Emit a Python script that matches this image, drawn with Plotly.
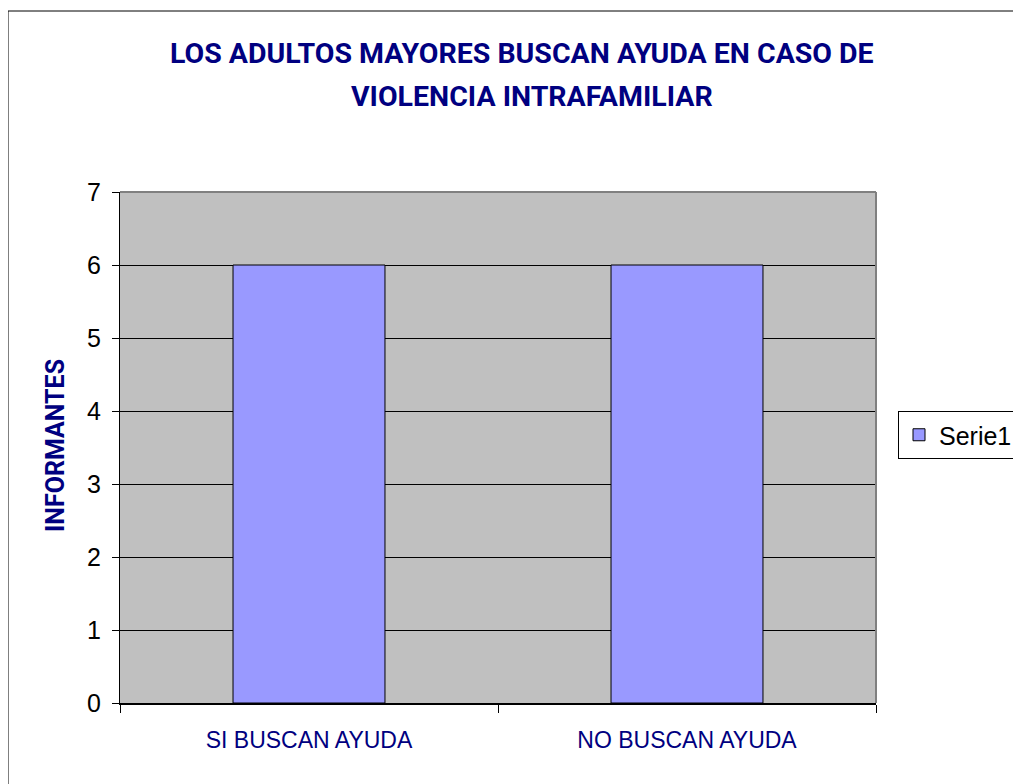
import plotly.graph_objects as go

categories = ["SI BUSCAN AYUDA", "NO BUSCAN AYUDA"]
values = [6, 6]
series_name = "Serie1"
title_lines = ["LOS ADULTOS MAYORES BUSCAN AYUDA EN CASO DE", "VIOLENCIA INTRAFAMILIAR"]
y_title = "INFORMANTES"

OFF = 8  # page body margin
W, H = 1021 - OFF, 784 - OFF
L, T = 120 - OFF, 192 - OFF
R, B = W - (876 - OFF), H - (703 - OFF)
navy = "#000080"
cond = "Roboto"
arial = "Liberation Sans, Arial"

fig = go.Figure()
fig.add_trace(go.Bar(
    x=categories, y=values, name=series_name,
    marker=dict(color="#9999FF", line=dict(color="black", width=1)),
    showlegend=True,
))

pw, ph = W - L - R, H - T - B
def px(x):  # screen x -> paper
    return (x - OFF - L) / pw
def py(y):  # screen y -> paper
    return (H - B - (y - OFF)) / ph

fig.add_shape(type="rect", xref="paper", yref="paper",
              x0=px(8), x1=px(1040), y0=py(800), y1=py(11),
              line=dict(color="black", width=1), fillcolor="rgba(0,0,0,0)", layer="below")

# title lines
for text, cx, cy in zip(title_lines, [521.5, 532], [54, 96]):
    fig.add_annotation(text="<b>" + text + "</b>", xref="paper", yref="paper",
                       x=px(cx), y=py(cy), xanchor="center", yanchor="middle",
                       showarrow=False, font=dict(family=cond, size=28.5, color=navy))
# y-axis title
fig.add_annotation(text="<b>" + y_title + "</b>", xref="paper", yref="paper",
                   x=px(55), y=py(446), xanchor="center", yanchor="middle", textangle=-90,
                   showarrow=False, font=dict(family=cond, size=25, color=navy))

fig.update_layout(
    width=W, height=H,
    margin=dict(l=L, r=R, t=T, b=B, autoexpand=False),
    paper_bgcolor="white", plot_bgcolor="#C0C0C0",
    bargap=0.598,
    legend=dict(x=px(898), xanchor="left", y=py(435), yanchor="middle",
                bordercolor="black", borderwidth=1, bgcolor="white",
                font=dict(family=arial, size=25, color="black"),
                itemwidth=30),
    showlegend=True,
)

fig.update_xaxes(
    type="category", tickson="boundaries", ticks="outside", ticklen=8, tickcolor="black",
    showline=True, linecolor="black", linewidth=2, mirror=False, showgrid=False,
    tickfont=dict(family=arial, size=23, color=navy), ticklabelstandoff=15,
)
fig.update_yaxes(
    range=[0, 7], dtick=1, ticks="outside", ticklen=7, tickcolor="black",
    showline=True, linecolor="black", linewidth=1, showgrid=True, gridcolor="black", gridwidth=1,
    zeroline=False, ticklabelstandoff=6,
    tickfont=dict(family=arial, size=25, color="black"),
)
fig.add_shape(type="line", xref="paper", yref="paper", x0=0, x1=1, y0=1, y1=1, line=dict(color="#808080", width=2))
fig.add_shape(type="line", xref="paper", yref="paper", x0=1, x1=1, y0=0, y1=1, line=dict(color="#808080", width=2))

fig.write_html("out.html")
